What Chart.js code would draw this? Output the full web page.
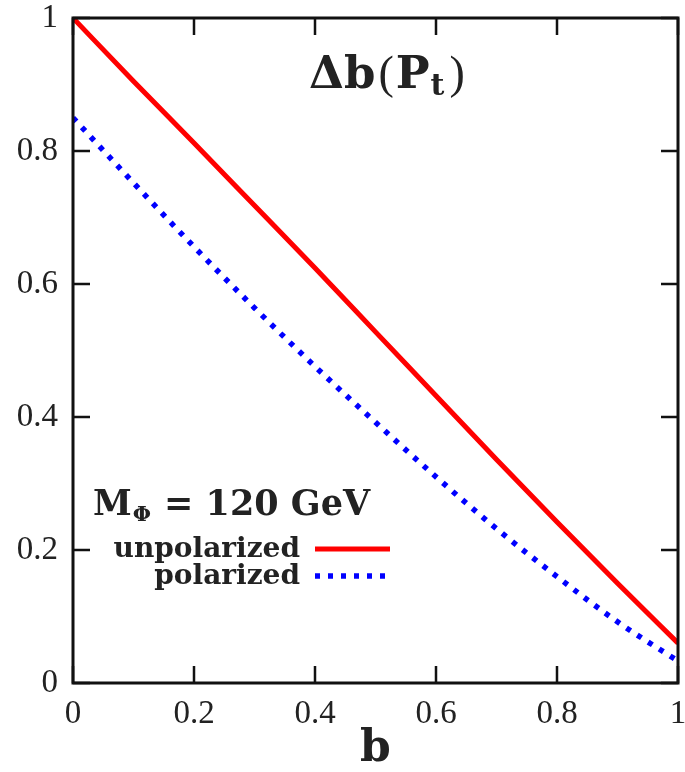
<!DOCTYPE html>
<html lang="en">
  <head>
    <meta charset="UTF-8" />
    <title>Delta b(Pt)</title>
    <style>
      html,
      body {
        margin: 0;
        padding: 0;
        background: #fff;
      }
    </style>
  </head>
  <body>
    <canvas id="chart" width="685" height="772"></canvas>
    <script src="https://cdn.jsdelivr.net/npm/chart.js"></script>
    <script>
      // values
      const bValues = [0, 0.1, 0.2, 0.3, 0.4, 0.5, 0.6, 0.7, 0.8, 0.9, 1.0];
      const unpolarized = [1.0, 0.905, 0.812, 0.718, 0.624, 0.528, 0.432, 0.336, 0.242, 0.15, 0.06];
      const polarized = [0.85, 0.752, 0.656, 0.564, 0.476, 0.392, 0.31, 0.232, 0.16, 0.092, 0.033];
      const seriesLabels = ["unpolarized", "polarized"];
      const axisTicks = [0, 0.2, 0.4, 0.6, 0.8, 1];

      const serif = "'Liberation Serif', 'DejaVu Serif', serif";
      const boldSerif = "'DejaVu Serif', 'Liberation Serif', serif";

      // box around the plot with inward ticks on all four sides
      const frame = {
        id: "frame",
        afterDatasetsDraw(chart) {
          const { ctx, chartArea: a, scales } = chart;
          const x = scales.x, y = scales.y;
          ctx.save();
          ctx.strokeStyle = "#111";
          ctx.lineWidth = 2.5;
          ctx.beginPath();
          axisTicks.forEach((v) => {
            const px = x.getPixelForValue(v);
            const py = y.getPixelForValue(v);
            ctx.moveTo(px, a.bottom);
            ctx.lineTo(px, a.bottom - 17);
            ctx.moveTo(px, a.top);
            ctx.lineTo(px, a.top + 17);
            ctx.moveTo(a.left, py);
            ctx.lineTo(a.left + 17, py);
            ctx.moveTo(a.right, py);
            ctx.lineTo(a.right - 17, py);
          });
          ctx.stroke();
          ctx.lineWidth = 3;
          ctx.strokeRect(a.left, a.top, a.right - a.left, a.bottom - a.top);
          ctx.restore();
        },
      };

      // title in the top right and the legend block in the lower left
      const notes = {
        id: "notes",
        afterDraw(chart) {
          const { ctx } = chart;
          ctx.save();
          ctx.fillStyle = "#222";
          ctx.textBaseline = "alphabetic";

          // Δb(P_t)
          let tx = 309, ty = 88;
          ctx.font = "bold 45px " + boldSerif;
          ctx.fillText("Δb", tx, ty);
          tx += ctx.measureText("Δb").width + 3;
          ctx.font = "46px " + serif;
          ctx.fillText("(", tx, ty);
          tx += ctx.measureText("(").width + 2;
          ctx.font = "bold 45px " + boldSerif;
          ctx.fillText("P", tx, ty);
          tx += ctx.measureText("P").width;
          ctx.font = "bold 30px " + boldSerif;
          ctx.fillText("t", tx + 1, ty + 7);
          tx += ctx.measureText("t").width + 6;
          ctx.font = "46px " + serif;
          ctx.fillText(")", tx, ty);

          // M_Φ = 120 GeV
          let mx = 93, my = 515;
          ctx.font = "bold 35px " + boldSerif;
          ctx.fillText("M", mx, my);
          mx += ctx.measureText("M").width;
          ctx.font = "bold 21px " + boldSerif;
          ctx.fillText("Φ", mx + 1, my + 6);
          mx += ctx.measureText("Φ").width + 14;
          ctx.font = "bold 35px " + boldSerif;
          ctx.fillText("= 120 GeV", mx, my);

          // legend entries, text right aligned before a line sample
          const ds = chart.data.datasets;
          const rows = [557, 584];
          ctx.textAlign = "right";
          ctx.font = "bold 28px " + boldSerif;
          ds.forEach((d, i) => {
            ctx.fillStyle = "#222";
            ctx.fillText(d.label, 300, rows[i]);
            ctx.strokeStyle = d.borderColor;
            ctx.lineWidth = d.borderWidth;
            ctx.setLineDash(d.borderDash || []);
            ctx.beginPath();
            ctx.moveTo(315, rows[i] - 8);
            ctx.lineTo(390, rows[i] - 8);
            ctx.stroke();
          });
          ctx.restore();
        },
      };

      new Chart(document.getElementById("chart"), {
        type: "line",
        data: {
          datasets: [
            {
              label: seriesLabels[0],
              data: bValues.map((b, i) => ({ x: b, y: unpolarized[i] })),
              borderColor: "#ff0000",
              borderWidth: 5,
              pointRadius: 0,
              cubicInterpolationMode: "monotone",
              clip: 0,
            },
            {
              label: seriesLabels[1],
              data: bValues.map((b, i) => ({ x: b, y: polarized[i] })),
              borderColor: "#0000ff",
              borderWidth: 5.5,
              borderDash: [5, 8],
              pointRadius: 0,
              cubicInterpolationMode: "monotone",
              clip: 0,
            },
          ],
        },
        options: {
          responsive: false,
          animation: false,
          layout: { padding: { top: 18, right: 7, left: 0, bottom: 0 } },
          plugins: { legend: { display: false }, tooltip: { enabled: false } },
          scales: {
            x: {
              type: "linear",
              min: 0,
              max: 1,
              afterBuildTicks: (s) => {
                s.ticks = axisTicks.map((v) => ({ value: v }));
              },
              afterFit: (s) => {
                s.height = 89;
                s.paddingLeft = 0;
                s.paddingRight = 0;
              },
              grid: { display: false, drawTicks: false },
              border: { display: false },
              ticks: {
                padding: 12,
                color: "#222",
                font: { family: serif, size: 33 },
                maxRotation: 0,
                callback: (v) => String(v),
              },
              title: {
                display: true,
                text: "b",
                color: "#222",
                padding: 0,
                font: { family: boldSerif, size: 44, weight: "bold", lineHeight: 1 },
              },
            },
            y: {
              min: 0,
              max: 1,
              afterBuildTicks: (s) => {
                s.ticks = axisTicks.map((v) => ({ value: v }));
              },
              afterFit: (s) => {
                s.width = 73;
                s.paddingTop = 0;
                s.paddingBottom = 0;
              },
              grid: { display: false, drawTicks: false },
              border: { display: false },
              ticks: {
                padding: 15,
                color: "#222",
                font: { family: serif, size: 33 },
                callback: (v) => String(v),
              },
            },
          },
        },
        plugins: [frame, notes],
      });
    </script>
  </body>
</html>
